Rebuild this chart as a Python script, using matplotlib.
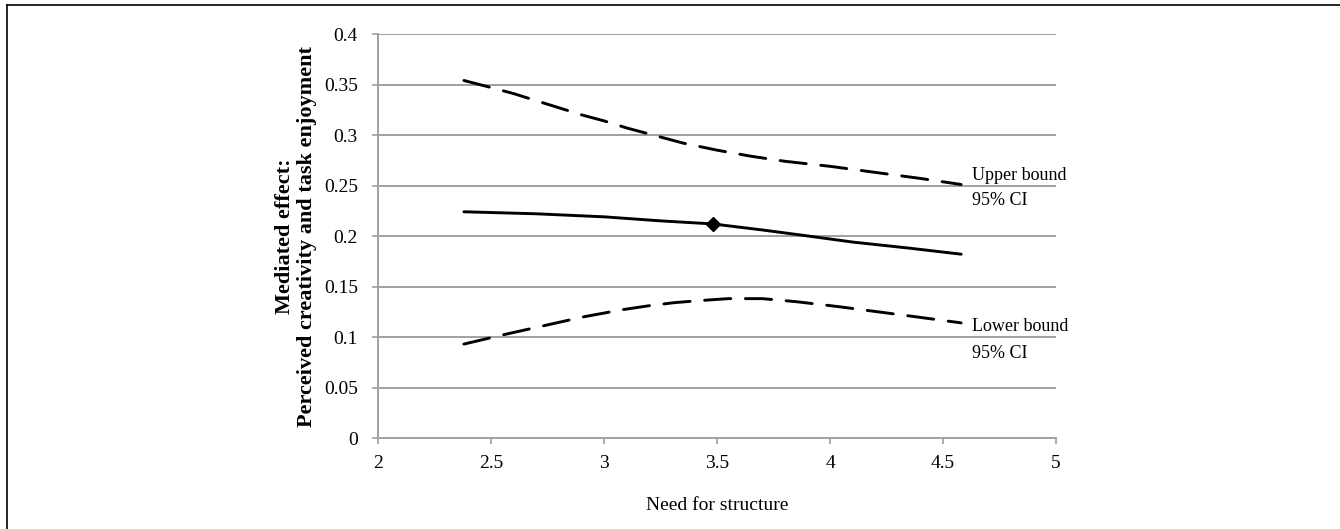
import matplotlib
matplotlib.use("Agg")
import matplotlib.pyplot as plt
from matplotlib.lines import Line2D

plt.rcParams["font.family"] = ["Liberation Serif", "DejaVu Serif"]

# Need for structure values
upper_x = [2.38, 2.5, 2.6, 2.7, 2.8, 2.9, 3.0, 3.1, 3.2, 3.35, 3.5, 3.65, 3.8, 4.0, 4.2, 4.4, 4.58]
upper_y = [0.354, 0.347, 0.341, 0.334, 0.327, 0.320, 0.314, 0.307, 0.301, 0.292,
           0.285, 0.279, 0.274, 0.269, 0.263, 0.257, 0.251]

effect_x = [2.38, 2.7, 3.0, 3.25, 3.48, 3.7, 3.87, 4.1, 4.35, 4.58]
effect_y = [0.224, 0.222, 0.219, 0.215, 0.212, 0.206, 0.201, 0.194, 0.188, 0.182]

lower_x = [2.38, 2.55, 2.73, 2.91, 3.08, 3.2, 3.31, 3.42, 3.55, 3.7, 3.85, 4.04, 4.21, 4.38, 4.58]
lower_y = [0.093, 0.102, 0.111, 0.120, 0.127, 0.131, 0.134, 0.136, 0.138, 0.138,
           0.135, 0.130, 0.125, 0.120, 0.114]

mean_x = [3.48]
mean_y = [0.212]

x_ticks = [2, 2.5, 3, 3.5, 4, 4.5, 5]
y_ticks = [0, 0.05, 0.1, 0.15, 0.2, 0.25, 0.3, 0.35, 0.4]
y_labels = ["0", "0.05", "0.1", "0.15", "0.2", "0.25", "0.3", "0.35", "0.4"]

fig = plt.figure(figsize=(13.4, 5.29), dpi=100)
ax = fig.add_axes([0.2821, 0.172, 0.506, 0.7637])

grey = "#a0a0a0"
dash = (0, (9, 5))

ax.plot(upper_x, upper_y, color="black", lw=2.1, linestyle=dash,
        dash_capstyle="round", dash_joinstyle="round", zorder=3)
ax.plot(effect_x, effect_y, color="black", lw=2.1, solid_capstyle="round",
        solid_joinstyle="round", zorder=3)
ax.plot(lower_x, lower_y, color="black", lw=2.1, linestyle=dash,
        dash_capstyle="round", dash_joinstyle="round", zorder=3)
ax.plot(mean_x, mean_y, marker="D", color="black", ms=7.5, lw=0, zorder=4)

ax.set_xlim(2, 5)
ax.set_ylim(0, 0.4)
ax.set_xticks(x_ticks)
ax.set_xticklabels([f"{t:g}" for t in x_ticks])
ax.set_yticks(y_ticks)
ax.set_yticklabels(y_labels)

ax.grid(axis="y", color=grey, lw=1.4)
ax.set_axisbelow(True)
for side in ["top", "right"]:
    ax.spines[side].set_visible(False)
for side in ["left", "bottom"]:
    ax.spines[side].set_color(grey)
    ax.spines[side].set_linewidth(1.4)

ax.tick_params(axis="both", colors=grey, labelcolor="black", labelsize=14,
               length=4.5, width=1.2, direction="out")
ax.tick_params(axis="y", pad=10)
ax.tick_params(axis="x", pad=8)

ax.set_xlabel("Need for structure", fontsize=14, labelpad=18)
ax.set_ylabel("Mediated effect:\nPerceived creativity and task enjoyment",
              fontsize=16, fontweight="bold", labelpad=5, linespacing=1.1)

ax.text(4.63, 0.260, "Upper bound", fontsize=13, va="center", ha="left")
ax.text(4.63, 0.235, "95% CI", fontsize=13, va="center", ha="left")
ax.text(4.63, 0.110, "Lower bound", fontsize=13, va="center", ha="left")
ax.text(4.63, 0.084, "95% CI", fontsize=13, va="center", ha="left")

# outer frame (left and top edges only)
fx = 7 / 1340
fy = 1 - 5 / 529
fig.add_artist(Line2D([fx, fx], [0, fy], transform=fig.transFigure, color="black", lw=1.2))
fig.add_artist(Line2D([fx, 1], [fy, fy], transform=fig.transFigure, color="black", lw=1.2))

fig.savefig("out.png", dpi=100)
